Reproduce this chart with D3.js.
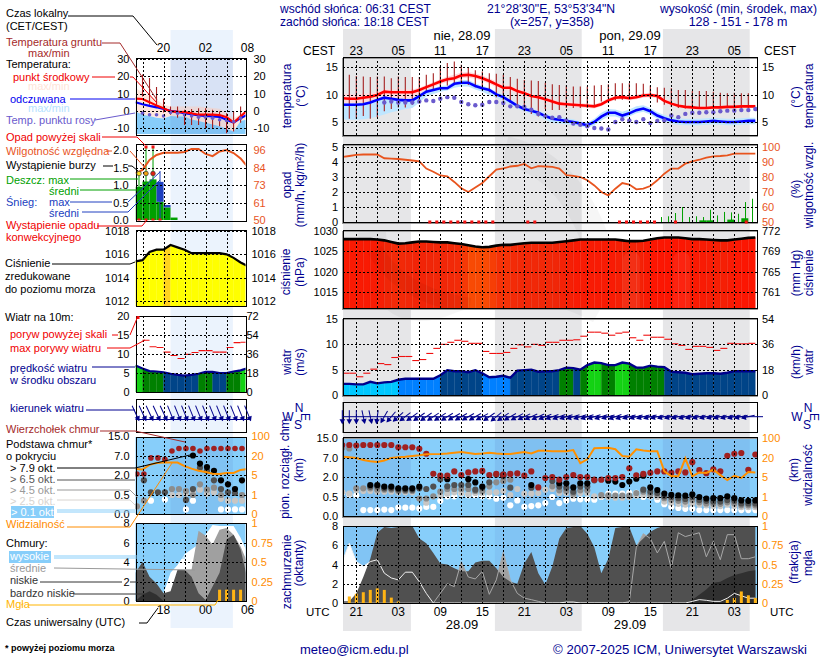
<!DOCTYPE html>
<html>
<head>
<meta charset="utf-8">
<script src="https://cdnjs.cloudflare.com/ajax/libs/d3/7.8.5/d3.min.js"></script>
<style>
  html, body { margin: 0; padding: 0; background: #fff; }
  text { font-family: "Liberation Sans", Arial, sans-serif; font-size: 11px; }
</style>
</head>
<body>
<svg id="chart" width="820" height="660"></svg>
<script>
// ---- main chart, one value per hour, 19 UTC on 27.09 = hour 19 ----
var hours = d3.range(19, 79);

var tempMid = [9.4,9.3,9.3,9.5,9.7,10,10.6,10.5,10.5,10.5,10.5,10.9,11.4,11.9,12.4,12.8,13,13.5,13.6,13.4,13,12.5,11.9,11.3,11.3,10.7,10.3,9.8,9.6,9.2,8.8,8.4,8.3,8.2,8.1,8,7.9,8.3,9,9.5,9.6,9.4,9.6,9.9,10,9.8,8.9,8.4,8,7.8,7.7,7.6,7.6,7.7,7.7,7.8,7.8,7.9,7.9,7.9];
var tempMax = [10.3,10.2,10.1,10.2,10.3,10.6,11,11,11,11,11,11.3,11.8,12.3,12.8,13.3,13.6,14,14.1,13.9,13.5,13,12.4,11.8,11.7,11.1,10.7,10.2,10,9.6,9.2,8.8,8.7,8.6,8.5,8.4,8.3,8.7,9.4,9.9,10,9.8,10,10.3,10.4,10.1,9.3,8.8,8.3,8.1,8,7.9,7.9,8,8,8.1,8.1,8.2,8.2,8.2];
var tempMin = [7.2,7,7,7.3,7.6,8,8.3,8.6,8.8,9,9.2,10,10.8,11.4,11.9,12.3,12.5,13,13.1,12.9,12.5,12,11.4,10.8,10.8,10.2,9.8,9.4,9.2,8.8,8.4,8,7.9,7.8,7.7,7.6,7.5,7.9,8.6,9.1,9.2,9,9.2,9.5,9.6,9.4,8.5,8,7.7,7.5,7.4,7.3,7.3,7.4,7.4,7.5,7.5,7.6,7.6,7.6];
var feelsMid = [8.2,8.2,8.2,8.3,8.6,9.1,9.5,9.3,9.1,9,9,9.8,10.6,10.9,11.2,11.2,12,12.2,12.2,11.6,11.2,10.9,10.1,9.6,8.8,8,7.4,7.1,6.7,6.1,5.6,5.4,5.2,5,4.7,4.4,5,6,6.7,6.7,6.2,6.6,7.2,7.5,7,6.2,5.7,5.3,5.1,5,5,5,5.1,5.2,5.1,5,5,5.1,5.2,5.2];
var feelsMax = [8.5,8.5,8.5,8.6,8.9,9.4,9.8,9.6,9.4,9.3,9.4,10.2,11,11.3,11.6,11.7,12.4,12.7,12.7,12.1,11.6,11.3,10.5,10,9.2,8.4,7.8,7.5,7.1,6.6,6.1,5.9,5.7,5.5,5.1,4.9,5.6,6.7,7.4,7.3,6.9,7.3,7.9,8.1,7.6,6.8,6.3,5.9,5.7,5.6,5.6,5.6,5.7,5.8,5.7,5.6,5.6,5.7,5.8,5.8];
var feelsMin = [5.5,5.4,5.4,5.5,5.7,6,6.4,6.8,7.1,7.4,7.6,8.6,9.7,10.2,10.6,10.8,11.3,11.5,11.5,11,10.6,10,9.5,9,8.2,7.5,7,6.5,6,5.4,4.8,4.7,4.6,4.4,4.2,3.9,4.4,5.3,6,6,5.6,6,6.6,6.9,6.4,5.6,5.1,4.7,4.5,4.4,4.4,4.4,4.5,4.6,4.5,4.4,4.4,4.5,4.6,4.6];
var dewPoint = [null,null,null,null,null,null,8.6,8.8,8.6,8.6,8.6,8.8,9,8.9,9.3,9.6,9.5,8.7,8.3,8.1,8.2,8.7,8.7,8.5,7.9,7.9,7.8,7.3,6.5,6.1,5.8,5.9,5.3,4.7,4.5,4.2,3.9,3.8,3.6,5,5.5,5.3,5,5.5,4.8,5.2,5.3,6.2,5.9,6.5,6.7,6.7,6.8,6.8,7,7.1,7.1,7.2,7.2,7.4];
var groundMax = [null,13.6,13.4,13.3,13.2,13.3,13.3,13,13.3,13.2,13.2,13.2,13.6,13.9,15.1,15.7,16,15.4,14.8,14.4,14.2,13.9,13.8,13.6,13.2,12.9,12.7,12.6,12.5,12.2,11.9,11.8,11.7,11.5,11.5,11.5,11.7,11.8,11.9,12.1,12.1,12.1,12.1,12,11.7,11.4,11.3,11.2,10.9,10.9,10.7,10.7,10.7,10.6,10.4,10.3,10.4,10.3,10.3,null];
var groundMin = [null,5.6,5.6,6.1,5.6,5.9,7,7.4,7.7,7.7,8.2,9,10.5,10.7,11,11.7,12,12,11.8,11.4,10.8,10.5,9.6,9,8.5,7.8,7,6.5,6,7.4,7.2,7.2,7.6,7.6,7.6,7.6,8,8.8,9.4,9,9.1,9.2,9.8,9.8,9.4,8.6,8.2,7.8,7.6,7.5,7.5,7.5,7.5,7.5,7.6,7.6,7.6,7.6,7.6,null];

var humidity = [93.3,94,94.8,95,95,95,92.5,92.2,92,91.5,91,90.4,85.6,83.5,81,80.4,76.7,72.5,70,73,76,80.5,85,85.7,87,87.5,88.7,85.8,87.3,87,86.7,85.6,81.3,80.8,80,77.8,74.4,70,67.8,72.2,76,75,71.8,72.2,74,77.8,82.2,85.6,85.6,88.9,90.4,91.5,92.9,93.8,94,94.4,95.6,95.6,95.6,95.6];
var rainHours = d3.range(64, 78);
var rainMax = [.33,.38,.6,1,.33,.38,.33,.82,.44,.67,.64,.55,1.33,1.55];
var rainMean = [0,0,0,0,0,0,.11,.11,0,0,.16,0,.25,0];
var convectiveHours = [31.5,32.5,33.5,34.5,35.5,36.5,37.5,38.5,39.5,40.5,45.5,46.5,58.6,59.6,60.6,61.6,62.6,63.6,66.6,76.7];

var pressure = [1028,1028,1028,1028,1028,1027.9,1027.7,1027.3,1026.9,1027,1027.2,1027.4,1027.4,1027.3,1027.2,1027.2,1027,1026.8,1026.5,1026.2,1026,1026.1,1026.4,1026.6,1026.6,1026.8,1027,1027.1,1027.1,1027.1,1027.1,1027.3,1027.5,1027.7,1027.9,1027.9,1027.9,1027.9,1027.9,1027.9,1027.7,1027.5,1027.5,1027.6,1027.9,1028.2,1028.4,1028.4,1028.4,1028.2,1028,1028,1027.9,1027.8,1027.7,1027.7,1027.9,1028.1,1028.3,1028.4];

var windSpeed = [2.2,2.2,2.1,2.1,2.6,2.3,2.5,2.6,3,3.2,3.2,3.2,3.2,3.2,3.9,4.9,4.7,4.7,4.5,4.9,4.3,3.5,3.6,3.8,3.4,4.8,4.9,5,4.6,4.7,4.7,4.9,5.4,5.3,5,5.9,6.4,6.3,5.9,5.9,6.4,6.2,5.4,5.4,5.8,5.6,5.5,4.6,4.5,4.4,4.1,4.2,4.3,4.3,4.2,4.4,4.7,4.7,4.7,4.7];
var windGust = [4.3,4.3,3.6,4.3,5.1,6.2,6,7.4,7.6,7.6,6.8,7,8.2,9.2,10,10.4,10.8,10.6,10.2,10.2,8.6,8.2,8.2,8.4,9.2,9.9,9.5,10,9.8,10.4,10.4,10.8,10.8,10.9,11.6,12.4,12.4,12.2,11.8,12.2,12.4,11.3,10.8,11.8,11.4,11.4,11,10.1,9.8,9,9.6,9.6,9.4,8.8,9.2,10.2,10.1,10.1,10.2];
var windDir = [0,0,0,-12,-12,8,30,40,48,52,54,55,55,57,57,58,60,60,60,60,62,55,50,56,60,62,64,66,66,68,70,70,72,72,72,72,72,72,74,70,72,74,74,74,74,76,76,76,76,74,76,76,76,76,76,76,76,78,78,80];

var cloudTop = [12.2,12.2,12,12.2,12.2,12.2,12.2,12.2,11.3,11.3,11.3,10.7,8.7,2.86,2.34,2.34,3.47,2.5,3.2,3.47,3.6,2.5,2.8,2.6,2.8,2.95,2.34,3.47,1.22,1.92,2,1.8,2,2.5,2,2,1.8,1.8,1.92,1.92,2,4.3,2.45,2.8,3.1,3.47,3.47,3.1,3.47,3.2,5.9,3.8,3,4,3.47,7.9,8.7,9,3.9,8.4];
var base79 = [null,null,null,null,1.4,1.4,1.28,1.28,1.15,1.15,1.15,1.28,null,null,null,1.84,null,null,1.84,1.59,1.28,null,null,2.6,null,null,null,1.4,null,null,null,1.53,1.53,1.22,1.53,1.53,null,null,1.72,1.66,1.4,1.66,1.87,2.34,1.22,1.02,.76,.66,.63,.6,.7,.5,.46,.47,.47,.55,.47,.41,.4,.41];
var base65 = [null,null,null,null,1.28,1.28,1.15,1.15,1.05,1.05,1.05,1.15,1.1,1.28,1.84,1.3,1.4,1.4,1.4,1.05,1.2,1.6,2.6,2.2,1.2,null,null,1.2,null,null,1.7,1.28,1.2,.9,1.28,1.28,1.75,null,null,null,null,null,null,1.05,.9,.8,.55,.5,.47,.45,.5,.42,.4,.38,.38,.42,.4,.33,.33,.33];
var base45 = [11,10.8,1.15,1.15,1.15,1.05,1.05,1.05,.95,.95,.95,.46,.46,.55,.9,1.1,1.1,1.1,1.1,.95,.95,1.3,1.6,1.7,1.8,null,null,null,null,null,1.3,1,.95,.75,1,1,null,.65,.62,.6,.6,.6,.8,.9,.7,.65,.47,.43,.4,.38,.42,.36,.33,.32,.32,.36,.33,.28,.28,.28];
var base25 = [.85,.75,1,.95,.95,.9,.9,.9,.85,.85,.85,null,.35,null,.6,.75,.85,.8,.7,.8,.8,.85,.85,.95,.65,1.1,.75,.75,.8,1.05,1.1,.8,.8,.6,.8,.8,.55,.55,.5,.48,.48,.5,.6,.65,.55,.5,.38,.35,.32,.3,.33,.3,.28,.26,.26,.3,.26,.23,.23,.23];
var base01 = [.84,.68,.63,.155,.155,.155,.17,.155,.22,.22,.22,.2,.24,.24,.4,.55,.55,.76,.63,.63,.55,.55,.455,.48,.28,.41,.24,.26,.28,.34,.5,.34,.41,.455,.44,.44,.43,.5,.76,.76,.76,.81,.81,.5,.55,.43,.31,.24,.21,.19,.19,.155,.155,.155,.155,.155,.155,.155,.155,.155];
var visibility = [25,23,20,18.4,17.5,16.9,18,20.5,22.7,25,28,31,34.7,35.5,36,38,41,44,40,36,38,41,38,36,36,40,44,38,49,49,47,47,47,52,15.9,19,59,60,61,55,28,25,55,50,47,47,9.4,5.5,5.5,19.7,5.5,8.6,8.2,10.7,6.5,4.4,6,4.8,8.9,8.6];

var cloudHigh = [4.3,6.2,4.3,3.8,4.3,4.5,3.1,2.6,2.4,3.2,3.2,2.2,1,0,0,0,0,0,0,0,0,0,0,0,0,0,0,0,0,0,0,0,.1,.1,0,0,0,0,0,0,0,0,0,0,0,0,0,0,0,0,.17,.35,.28,.17,.17,.5,1,.75,.5,.5];
var cloudMid = [0,0,0,0,0,0,0,0,0,0,0,0,0,0,1,2,1.7,4.3,2.7,2.5,3.3,.9,2.4,5.3,2.4,1,.5,.35,.17,0,0,0,0,0,0,0,0,0,0,0,0,.14,5.8,7.2,6.7,5.2,6.4,3.6,7.3,6.9,7.1,7.3,4.8,6.4,4.5,7.1,7.1,4.6,4.6,4.8];
var cloudLow = [.17,.17,1,2.7,4.6,7.3,7.9,7.8,7.9,8,8,6.7,6.2,5.2,4.1,4,3.6,3.3,3.3,4.2,4.4,4.4,3.6,2.7,2.2,2,4.1,5.3,3.1,1.9,3.8,6.7,7.8,7.9,8,7.2,5.8,3.1,4.6,7.8,7.9,7.9,6,6.7,7.4,7.8,8,7.9,7.9,7.9,7.9,7.9,7.9,7.9,7.9,7.9,7.9,7.9,7.9,7.9];
var cloudVeryLow = [0,0,0,0,0,0,0,0,0,0,0,0,0,0,0,0,0,0,0,0,0,0,0,0,0,0,0,0,0,0,0,0,0,0,0,0,0,0,0,0,0,0,0,0,0,0,0,0,0,0,.35,.85,1.4,2.1,2.2,2.6,2.9,3.1,3.3,3.4];
var fogHours = [20,21,22,23,24,25,26,27,74,75,76,77,78];
var fogMain = [.085,.12,.14,.17,.19,.17,.07,.02,.04,.065,.15,.1,.065];

// ---- small chart on the left, hours 14..30 UTC ----
var leftHours = d3.range(14, 31);
var leftTemp = [7,6.8,5,3,1.5,-.4,-.6,-.8,-1.5,-2.3,-2.3,-2.3,-2.5,-3.7,-6.8,-3.3,.5];
var leftFeels = [4.9,3.8,2.8,2,1,0,-.7,-1.4,-2,-2.7,-3,-3.3,-3.5,-5.2,-6.8,-4.3,-2.2];
var leftTempMax = [13,10.7,8.5,6.4,3.5,2.5,2.5,2.5,2.5,2.5,2,1.6,1.2,-1.4,-4.3,-2,1];
var leftFeelsTop = [-.4,-2.3,-3,-4,-4.5,-3,-3.3,-3.3,-5,-6,-7,-8,-9,-10.5,-12,-6,-5];
var leftFeelsBottom = [-14,-14,-14,-14,-14,-14,-14,-14,-14,-14,-14,-14,-14,-14,-14,-14,-14];
var leftGroundMax = [null,21,19,13.8,7,2.5,2.5,.6,1,1.5,1.5,.6,-.4,-1.4,-.4,2.5,null];
var leftGroundMin = [null,8.3,3.5,2.5,-1,-2.3,-4,-8.2,-8.2,-8.2,-10,-10,-9,-13,-12,-7,null];
var leftDew = [null,-1.4,-2.3,-2.3,-3,-1,-1.4,-2.3,-3,-3.7,-3.7,-4.3,-5.2,-5.6,-6.2,-4.3,null];

var leftHumidity = [80.7,82.9,89.4,92.7,94.2,94.2,94.2,94.7,96.7,96.7,93.4,92,95,96,94,90.5,85];
var leftRainMean = [.95,1.1,1.16,.52,.36,.07,0,0,0,0,0,0,0,0,0,0,0];
var leftSnowMean = [0,0,0,.57,.07,0,0,0,0,0,0,0,0,0,0,0,0];
var leftRainMax = [1.3,2.1,2.1];
var leftSnowMax = [1.4];
var leftConvective = [14.5,15.5,16.5,17.5];
var stormHours = [14.5,15.5,16.5];
var stormColors = ["#ffe020","#f0a010","#e02010"];
var overScaleHours = [15.5,16.5];

var leftPressure = [1015.4,1015.5,1016.2,1016.4,1016.4,1016.8,1016.6,1016.4,1016.1,1016.1,1016.1,1016.1,1016.1,1016,1015.7,1015.3,1015];
var leftWind = [7,6.2,5.5,5.4,5.2,4.8,4.5,4.3,4.5,4.8,5.3,5.3,5,5,5.4,5.7,6.3];
var leftGust = [null,13.6,11.9,11.7,10.5,9.6,8.8,9.9,10.4,10.9,10.9,10.5,10.5,11.7,13,13.1,null];
var leftDir = [-25,-25,-25,-25,-25,-22,-22,-22,-22,-22,-22,-22,-22,-22,-22,-22,-22];

var leftTop = [2.26,2.26,6.5,6.5,6.1,9,10,10,10,9,10,10,10,10,10,10,10];
var left79 = [null,null,null,null,null,null,null,null,7.2,5,4.1,3.1,1.6,1.3,.95,1.6,null];
var left65 = [null,1.6,.7,.7,.7,null,null,.37,.95,3.9,3.1,1.6,.95,.7,.65,null,null];
var left45 = [.2,.35,null,null,null,.95,.95,.8,.5,1.3,.9,1.05,.5,null,null,.5,null];
var left25 = [.2,null,null,null,null,.5,.5,.6,.7,.9,.6,.7,.4,.35,.35,.35,.3];
var left01 = [null,.35,.35,null,.38,null,null,.12,.35,null,null,null,.12,.12,.12,.12,null];
var leftVis = [9.7,9.3,13,14.5,14.8,14.8,14.8,12,10,8.4,7.4,6,5.8,6.6,6.6,9,9.7];

var leftHigh = [0,0,0,0,.8,2.9,3.7,4.8,5.3,5.8,6.8,7.8,7.7,7.7,7.7,6.5,4.9];
var leftMid = [0,0,0,0,0,0,1.2,3.2,3.2,7.2,6.7,5.8,7.3,7.5,6.8,5.6,3.9];
var leftLow = [2.9,4,2.5,1.8,.8,1,3.2,3.2,2.5,.8,.1,1.5,2.9,6.3,6.8,5.3,2.2];
var leftVeryLow = [0,.65,1,.65,0,0,0,0,0,0,0,0,0,0,0,0,0];
var leftFogHours = [26,27,28,29];
var leftFog = [.145,.145,.145,.145];

// tick labels
var baseTicks = [0, .5, 2, 7, 15];
var baseLabels = ["0.0","0.5","2.0","7.0","15.0"];
var visTicks = [0, 1, 5, 20, 100];
var fogTicks = [0, .25, .5, .75, 1];
var mainTopLabels = ["23","05","11","17","23","05","11","17","23","05"];
var mainBottomLabels = ["21","03","09","15","21","03","09","15","21","03"];
var mainLabelHours = [21,27,33,39,45,51,57,63,69,75];

var NAVY = "#000090", ORANGE = "#ff8c00", RH = "#e8541e", SKY = "#87cefa";
var windColor = d3.scaleThreshold().domain([3.1,4,5.2,6.2]).range(["#00c8ff","#0080ff","#004488","#008000","#14d214"]);
var pressureColor = d3.scaleLinear().domain([1026.2,1026.7,1027.3,1028.2]).range(["#f84a04","#f42c08","#f02608","#fc1602"]).clamp(true);
var leftPressureColor = d3.scaleThreshold().domain([1016.7]).range(["#ffff00","#ffd21e"]);

var svg = d3.select("#chart");
var clipCount = 0;

var xMain = d3.scaleLinear().domain([19.1, 78.24]).range([343, 757]);
var xLeft = d3.scaleLinear().domain([14, 29.7]).range([135.5, 245.5]);
var gridMain = d3.range(21, 78, 3);
var gridLeft = [15, 18, 21, 24, 27];

// plain text helper
function label(x, y, str, color, anchor, size) {
  return svg.append("text").attr("x", x).attr("y", y).text(str)
    .attr("fill", color || "#000")
    .attr("text-anchor", anchor || "start")
    .style("font-size", (size || 11) + "px");
}

function vlabel(x, y, str, color) {
  svg.append("text").attr("transform", "translate(" + x + "," + y + ") rotate(-90)")
    .attr("text-anchor", "middle").attr("fill", color || NAVY).style("font-size", "12px").text(str);
}

function leader(points, color) {
  svg.append("path").attr("d", d3.line()(points)).attr("fill", "none")
    .attr("stroke", color).attr("stroke-width", 1);
}

// a clipped group for the marks of one panel
function panel(x, top, bottom) {
  var id = "clip" + (clipCount++);
  svg.append("clipPath").attr("id", id).append("rect")
    .attr("x", x.range()[0]).attr("y", top).attr("width", x.range()[1] - x.range()[0]).attr("height", bottom - top);
  return svg.append("g").attr("clip-path", "url(#" + id + ")");
}

function finishPanel(x, y, top, bottom, grid, yGrid, shadow) {
  var x0 = x.range()[0], x1 = x.range()[1];
  var g = svg.append("g").attr("shape-rendering", "crispEdges");
  g.selectAll(".v").data(grid).enter().append("line")
    .attr("x1", function(d) { return Math.round(x(d)) + .5; }).attr("x2", function(d) { return Math.round(x(d)) + .5; })
    .attr("y1", top).attr("y2", bottom)
    .attr("stroke", "#000").attr("stroke-dasharray", "2,2");
  if (yGrid) {
    g.selectAll(".h").data(yGrid).enter().append("line")
      .attr("x1", x0).attr("x2", x1)
      .attr("y1", function(d) { return Math.round(y(d)) + .5; }).attr("y2", function(d) { return Math.round(y(d)) + .5; })
      .attr("stroke", "#000").attr("stroke-dasharray", "2,2");
  }
  if (shadow) {
    g.append("rect").attr("x", x0 - 1).attr("y", top + 1).attr("width", x1 - x0 + 1).attr("height", bottom - top)
      .attr("fill", "none").attr("stroke", "#999");
  }
  g.append("rect").attr("x", Math.round(x0) + .5).attr("y", Math.round(top) + .5)
    .attr("width", Math.round(x1 - x0)).attr("height", Math.round(bottom - top))
    .attr("fill", "none").attr("stroke", "#000");
}

function axisL(y, x, ticks, labels, color, pad) {
  var axis = d3.axisLeft(y).tickValues(ticks).tickSize(0).tickPadding(pad || 6);
  axis.tickFormat(labels ? function(d, i) { return labels[i]; } : String);
  var g = svg.append("g").attr("transform", "translate(" + x + ",0)").call(axis);
  g.select(".domain").remove();
  g.selectAll("text").attr("fill", color || "#000").style("font-size", "11px");
}

function axisR(y, x, ticks, labels, color, pad) {
  var axis = d3.axisRight(y).tickValues(ticks).tickSize(0).tickPadding(pad || 5);
  axis.tickFormat(labels ? function(d, i) { return labels[i]; } : String);
  var g = svg.append("g").attr("transform", "translate(" + x + ",0)").call(axis);
  g.select(".domain").remove();
  g.selectAll("text").attr("fill", color || "#000").style("font-size", "11px");
}

function drawLine(g, x, y, xs, vals, color, width) {
  var line = d3.line().defined(function(d, i) { return vals[i] != null; })
    .x(function(d) { return x(d); }).y(function(d, i) { return y(vals[i]); });
  g.append("path").attr("d", line(xs)).attr("fill", "none").attr("stroke", color).attr("stroke-width", width);
}

function drawBand(g, x, y, xs, upper, lower, color) {
  var area = d3.area().x(function(d) { return x(d); })
    .y0(function(d, i) { return y(lower[i]); }).y1(function(d, i) { return y(upper[i]); });
  g.append("path").attr("d", area(xs)).attr("fill", color);
}

// one filled slice per hour, each with its own colour
function drawStrips(g, x, y, xs, vals, colorOf, bottom) {
  d3.range(xs.length - 1).forEach(function(i) {
    var area = d3.area().x(function(d) { return x(d.h); }).y0(bottom).y1(function(d) { return y(d.v); });
    g.append("path").attr("d", area([{h: xs[i], v: vals[i]}, {h: xs[i + 1], v: vals[i + 1]}]))
      .attr("fill", colorOf(vals[i + 1])).attr("stroke", colorOf(vals[i + 1])).attr("stroke-width", .3);
  });
}

function drawDots(g, x, y, xs, vals, color, r, stroke) {
  xs.forEach(function(h, i) {
    if (vals[i] == null) return;
    g.append("circle").attr("cx", x(h)).attr("cy", y(vals[i])).attr("r", r)
      .attr("fill", color).attr("stroke", stroke || "none");
  });
}

function drawWhiskers(g, x, y, xs, hi, lo, color) {
  g.selectAll(".w").data(xs.filter(function(d, i) { return hi[i] != null; })).enter().append("line")
    .attr("x1", function(d) { return x(d); }).attr("x2", function(d) { return x(d); })
    .attr("y1", function(d) { return y(hi[xs.indexOf(d)]); })
    .attr("y2", function(d) { return y(lo[xs.indexOf(d)]); })
    .attr("stroke", color).attr("stroke-width", 1.1);
}

// gust is one short flat dash per hour
function drawGust(g, x, y, xs, vals) {
  xs.forEach(function(h, i) {
    if (vals[i] == null) return;
    g.append("line").attr("x1", x(h)).attr("x2", x(h + 1)).attr("y1", y(vals[i])).attr("y2", y(vals[i]))
      .attr("stroke", "#f01010").attr("stroke-width", 1.1);
  });
}

function drawArrows(x, y0, xs, dirs, len, lineY, x2) {
  svg.append("line").attr("x1", x.range()[0]).attr("x2", x2).attr("y1", lineY).attr("y2", lineY)
    .attr("stroke", "#00008b").attr("stroke-width", 1);
  xs.forEach(function(h, i) {
    var a = svg.append("g").attr("transform", "translate(" + x(h) + "," + y0 + ") rotate(" + dirs[i] + ")");
    a.append("line").attr("x1", 0).attr("x2", 0).attr("y1", -len).attr("y2", len)
      .attr("stroke", "#00008b").attr("stroke-width", 1);
    a.append("path").attr("d", d3.line()([[0, len + 1], [-2.8, len - 4], [2.8, len - 4]]) + "Z").attr("fill", "#00008b");
  });
}

function drawBases(g, x, y, xs, layers) {
  layers.forEach(function(l) {
    drawDots(g, x, y, xs, l.vals, l.color, 3.1);
  });
}

function fogBars(g, x, y, xs, vals) {
  xs.forEach(function(h, i) {
    g.append("rect").attr("x", x(h) - 1.5).attr("width", 3).attr("y", y(vals[i])).attr("height", y(0) - y(vals[i])).attr("fill", "#ffb414");
  });
}

// ---- night bands ----
var nightMain = [[19.1, 28.8], [40.8, 53.2], [64.8, 77.2]];
svg.selectAll(".night").data(nightMain).enter().append("rect")
  .attr("x", function(d) { return xMain(d[0]); }).attr("width", function(d) { return xMain(d[1]) - xMain(d[0]); })
  .attr("y", 29).attr("height", 602).attr("fill", "#e6e6e8");
svg.append("rect").attr("x", xLeft(19)).attr("width", xLeft(27.9) - xLeft(19)).attr("y", 30).attr("height", 598).attr("fill", "#ebf3fd");

// big faint watermark behind the main panels
var mark = svg.append("g").attr("fill", "none").attr("stroke", "#000").attr("stroke-opacity", .035).attr("stroke-width", 28);
mark.append("path").attr("d", "M372,232 Q378,330 450,300 Q530,270 600,310");
mark.append("path").attr("d", "M505,150 Q590,170 610,300");

// ---- main: temperature ----
var yTemp = d3.scaleLinear().domain([5, 10, 15]).range([122, 95, 67]);
var pT = panel(xMain, 57, 135);
drawBand(pT, xMain, yTemp, hours, tempMax, tempMin, "#ffd9dc");
drawBand(pT, xMain, yTemp, hours, feelsMax, feelsMin, "#bfe6ff");
drawWhiskers(pT, xMain, yTemp, hours, groundMax, groundMin, "#a52020");
drawLine(pT, xMain, yTemp, hours, tempMid, "#ff0000", 2.6);
drawLine(pT, xMain, yTemp, hours, feelsMid, "#0000ff", 2.6);
drawDots(pT, xMain, yTemp, hours, dewPoint, "#6a5acd", 2.2);
finishPanel(xMain, yTemp, 57, 135, gridMain, [5, 10, 15], true);
axisL(yTemp, 343, [5, 10, 15], null, "#000", 5);
axisR(yTemp, 757, [5, 10, 15]);

// ---- main: precipitation ----
var yRain = d3.scaleLinear().domain([0, 5]).range([222, 147]);
var yHum = d3.scaleLinear().domain([50, 100]).range([222, 147]);
var pR = panel(xMain, 144, 222.5);
rainHours.forEach(function(h, i) {
  if (rainMean[i] > 0) pR.append("rect").attr("x", xMain(h)).attr("width", xMain(h + 1) - xMain(h))
    .attr("y", yRain(rainMean[i])).attr("height", yRain(0) - yRain(rainMean[i])).attr("fill", "#00a000");
  pR.append("line").attr("x1", xMain(h + .6)).attr("x2", xMain(h + .6)).attr("y1", yRain(rainMax[i])).attr("y2", yRain(0))
    .attr("stroke", "#00a000").attr("stroke-width", 1);
});
drawLine(pR, xMain, yHum, hours, humidity, RH, 1.8);
finishPanel(xMain, yRain, 144, 222, gridMain, [1, 2, 3, 4, 5], true);
svg.selectAll(".conv").data(convectiveHours).enter().append("rect")
  .attr("x", function(d) { return xMain(d) - 1.5; }).attr("y", yRain(0) - 1.5).attr("width", 3).attr("height", 3).attr("fill", "#f01010");
axisL(yRain, 343, [0, 1, 2, 3, 4, 5], null, "#000", 5);
axisR(yHum, 757, [50, 60, 70, 80, 90, 100], null, RH);

// ---- main: pressure ----
var yPress = d3.scaleLinear().domain([1015, 1030]).range([292, 231]);
var pP = panel(xMain, 230, 308);
drawStrips(pP, xMain, yPress, hours, pressure, pressureColor, 308);
// pale rounded shapes and a dark swoosh of the watermark inside the red fill
[[623, 252, 17], [673, 252, 17]].forEach(function(b) {
  pP.append("rect").attr("x", b[0]).attr("y", b[1]).attr("width", b[2]).attr("height", 70).attr("rx", 8).attr("fill", "#fff").attr("fill-opacity", .06);
});
pP.append("path").attr("d", "M375,250 Q400,295 470,306").attr("fill", "none").attr("stroke", "#000").attr("stroke-opacity", .04).attr("stroke-width", 16);
drawLine(pP, xMain, yPress, hours, pressure, "#000", 2.6);
finishPanel(xMain, yPress, 230, 308, gridMain, [1015, 1020, 1025], true);
axisL(yPress, 343, [1015, 1020, 1025, 1030], null, "#000", 5);
axisR(yPress, 757, [1015, 1020, 1025, 1030], ["761", "765", "769", "772"]);

// ---- main: wind ----
var yWind = d3.scaleLinear().domain([0, 15]).range([395, 319]);
var pW = panel(xMain, 318, 395);
drawStrips(pW, xMain, yWind, hours, windSpeed, windColor, 395);
drawLine(pW, xMain, yWind, hours, windSpeed, "#00008b", 2.4);
drawGust(pW, xMain, yWind, hours.slice(0, 59), windGust);
finishPanel(xMain, yWind, 318, 395, gridMain, [5, 10], true);
axisL(yWind, 343, [0, 5, 10, 15], null, "#000", 5);
axisR(yWind, 757, [0, 5, 10, 15], ["0", "18", "36", "54"]);

// ---- main: wind direction ----
finishPanel(xMain, null, 401.5, 431.5, gridMain, null, true);
drawArrows(xMain, 416.7, hours.slice(0, 59), windDir, 6.5, 416.7, 763);

// ---- main: cloud base ----
var yBase = d3.scaleLinear().domain(baseTicks).range([516, 497, 477, 458, 438]);
var yVis = d3.scaleLinear().domain(visTicks).range([516, 497, 477, 458, 438]);
var pB = panel(xMain, 437, 516);
pB.append("rect").attr("x", 343).attr("y", 437).attr("width", 414).attr("height", 79).attr("fill", SKY);
nightMain.forEach(function(n) {
  pB.append("rect").attr("x", xMain(n[0])).attr("width", xMain(n[1]) - xMain(n[0])).attr("y", 437).attr("height", 79).attr("fill", "#5068c0").attr("fill-opacity", .14);
});
drawBases(pB, xMain, yBase, hours, [
  {vals: base01, color: "#ffffff"}, {vals: base25, color: "#c8c6c4"}, {vals: base45, color: "#8c8c8c"},
  {vals: base65, color: "#505050"}, {vals: base79, color: "#000000"}]);
drawDots(pB, xMain, yBase, hours, cloudTop, "#a02020", 3.1);
drawLine(pB, xMain, yVis, hours, visibility, "#ff9000", 2);
finishPanel(xMain, yBase, 437, 516, gridMain, [.5, 2, 7], true);
axisL(yBase, 343, baseTicks, baseLabels, "#000", 5);
axisR(yVis, 757, visTicks, null, ORANGE);

// ---- main: clouds ----
var yCloud = d3.scaleLinear().domain([0, 8]).range([603, 526]);
var yFog = d3.scaleLinear().domain([0, 1]).range([603, 526]);
var pC = panel(xMain, 526, 603);
pC.append("rect").attr("x", 343).attr("y", 526).attr("width", 414).attr("height", 77).attr("fill", SKY);
nightMain.forEach(function(n) {
  pC.append("rect").attr("x", xMain(n[0])).attr("width", xMain(n[1]) - xMain(n[0])).attr("y", 526).attr("height", 77).attr("fill", "#5068c0").attr("fill-opacity", .1);
});
var zeros = hours.map(function() { return 0; });
drawBand(pC, xMain, yCloud, hours, cloudHigh, zeros, "#ffffff");
drawBand(pC, xMain, yCloud, hours, cloudMid, zeros, "#a0a0a0");
drawBand(pC, xMain, yCloud, hours, cloudLow, zeros, "#505050");
drawBand(pC, xMain, yCloud, hours, cloudVeryLow, zeros, "#303030");
drawLine(pC, xMain, yCloud, hours, cloudMid, "#a8a8a8", 1);
drawLine(pC, xMain, yCloud, hours, cloudHigh, "#f0f0f0", 1);
fogBars(pC, xMain, yFog, fogHours, fogMain);
finishPanel(xMain, yCloud, 526, 603, gridMain, [2, 4, 6], false);
axisL(yCloud, 343, [0, 2, 4, 6, 8], null, "#000", 5);
axisR(yFog, 757, fogTicks, ["0", "0.25", "0.5", "0.75", "1"], ORANGE);

// ---- left: temperature ----
var yTempL = d3.scaleLinear().domain([-10, 30]).range([128, 59]);
var pTL = panel(xLeft, 57.5, 134);
drawBand(pTL, xLeft, yTempL, leftHours, leftTempMax, leftFeelsTop, "#ffe6dc");
drawBand(pTL, xLeft, yTempL, leftHours, leftFeelsTop, leftFeelsBottom, "#87cdfa");
pTL.append("rect").attr("x", xLeft(19)).attr("width", xLeft(27.9) - xLeft(19)).attr("y", 57).attr("height", 78).attr("fill", "#5068c0").attr("fill-opacity", .12);
drawWhiskers(pTL, xLeft, yTempL, leftHours, leftGroundMax, leftGroundMin, "#a52020");
drawLine(pTL, xLeft, yTempL, leftHours, leftFeels, "#0000ff", 2.2);
drawLine(pTL, xLeft, yTempL, leftHours, leftTemp, "#ff0000", 2.2);
drawDots(pTL, xLeft, yTempL, leftHours, leftDew, "#6a5acd", 1.8);
finishPanel(xLeft, yTempL, 57.5, 134, gridLeft, [-10, 0, 10, 20, 30]);
axisL(yTempL, 135.5, [-10, 0, 10, 20, 30], null, "#000", 6);
axisR(yTempL, 245.5, [-10, 0, 10, 20, 30], null, "#000", 8);

// ---- left: precipitation ----
var yRainL = d3.scaleLinear().domain([0, 2]).range([220, 150]);
var yHumL = d3.scaleLinear().domain([50, 96]).range([220, 150]);
var pRL = panel(xLeft, 143.5, 220.5);
leftHours.forEach(function(h, i) {
  if (leftRainMean[i] > 0) pRL.append("rect").attr("x", xLeft(h)).attr("width", xLeft(h + 1) - xLeft(h))
    .attr("y", yRainL(leftRainMean[i])).attr("height", yRainL(0) - yRainL(leftRainMean[i])).attr("fill", "#00a000");
  if (leftSnowMean[i] > 0) pRL.append("rect").attr("x", xLeft(h)).attr("width", xLeft(h + 1) - xLeft(h))
    .attr("y", yRainL(leftRainMean[i] + leftSnowMean[i])).attr("height", yRainL(0) - yRainL(leftSnowMean[i])).attr("fill", "#2040c0");
});
leftRainMax.forEach(function(v, i) {
  pRL.append("line").attr("x1", xLeft(14.5 + i)).attr("x2", xLeft(14.5 + i)).attr("y1", yRainL(v)).attr("y2", yRainL(0)).attr("stroke", "#00a000");
});
leftSnowMax.forEach(function(v, i) {
  pRL.append("line").attr("x1", xLeft(17.5 + i)).attr("x2", xLeft(17.5 + i)).attr("y1", yRainL(v)).attr("y2", yRainL(0)).attr("stroke", "#2040c0");
});
drawLine(pRL, xLeft, yHumL, leftHours, leftHumidity, RH, 2);
finishPanel(xLeft, yRainL, 143.5, 220, gridLeft, [.5, 1, 1.5, 2]);
overScaleHours.forEach(function(h) {
  svg.append("rect").attr("x", xLeft(h) - 1.5).attr("y", 145.5).attr("width", 3).attr("height", 3).attr("fill", "#f01010");
});
stormHours.forEach(function(h, i) {
  svg.append("circle").attr("cx", xLeft(h)).attr("cy", 173.5).attr("r", 2.3).attr("fill", stormColors[i]).attr("stroke", "#333").attr("stroke-width", .7);
});
leftConvective.forEach(function(h) {
  svg.append("rect").attr("x", xLeft(h) - 1.5).attr("y", 218.5).attr("width", 3).attr("height", 2).attr("fill", "#f01010");
});
axisL(yRainL, 135.5, [0, .5, 1, 1.5, 2], ["0.0", "0.5", "1.0", "1.5", "2.0"], "#000", 7);
axisR(yHumL, 245.5, [50, 61, 73, 84, 96], null, RH, 8);

// ---- left: pressure ----
var yPressL = d3.scaleLinear().domain([1012, 1018]).range([301, 231]);
var pPL = panel(xLeft, 230, 306);
drawStrips(pPL, xLeft, yPressL, leftHours, leftPressure, leftPressureColor, 306);
drawLine(pPL, xLeft, yPressL, leftHours, leftPressure, "#000", 2.2);
finishPanel(xLeft, yPressL, 230, 306, gridLeft, [1012, 1014, 1016, 1018]);
axisL(yPressL, 135.5, [1012, 1014, 1016, 1018], null, "#000", 6);
axisR(yPressL, 245.5, [1012, 1014, 1016, 1018], null, "#000", 6);

// ---- left: wind ----
var yWindL = d3.scaleLinear().domain([0, 20]).range([392, 316]);
var pWL = panel(xLeft, 316, 392);
drawStrips(pWL, xLeft, yWindL, leftHours, leftWind, windColor, 392);
drawLine(pWL, xLeft, yWindL, leftHours, leftWind, "#00008b", 2.2);
drawGust(pWL, xLeft, yWindL, leftHours, leftGust);
finishPanel(xLeft, yWindL, 316, 392, gridLeft, [5, 10, 15]);
svg.append("rect").attr("x", 136.5).attr("y", 316).attr("width", 3).attr("height", 3).attr("fill", "#f01010");
axisL(yWindL, 135.5, [0, 5, 10, 15, 20], null, "#000", 6);
axisR(yWindL, 245.5, [0, 5, 10, 15, 20], ["0", "18", "36", "54", "72"], "#000", 1);

// ---- left: wind direction ----
finishPanel(xLeft, null, 398.5, 431, gridLeft, null);
drawArrows(xLeft, 413, leftHours, leftDir, 8, 419.5, 251);

// ---- left: cloud base ----
var yBaseL = d3.scaleLinear().domain(baseTicks).range([514, 495, 475, 456, 436]);
var yVisL = d3.scaleLinear().domain(visTicks).range([514, 495, 475, 456, 436]);
var dotHours = leftHours.map(function(h) { return h + .2; });
var pBL = panel(xLeft, 437, 514);
pBL.append("rect").attr("x", 135).attr("y", 437).attr("width", 111).attr("height", 77).attr("fill", SKY);
pBL.append("rect").attr("x", xLeft(19)).attr("width", xLeft(27.9) - xLeft(19)).attr("y", 437).attr("height", 77).attr("fill", "#5068c0").attr("fill-opacity", .12);
drawBases(pBL, xLeft, yBaseL, dotHours, [
  {vals: left01, color: "#ffffff"}, {vals: left25, color: "#c8c6c4"}, {vals: left45, color: "#8c8c8c"},
  {vals: left65, color: "#505050"}, {vals: left79, color: "#000000"}]);
drawDots(pBL, xLeft, yBaseL, dotHours, leftTop, "#a02020", 2.8);
drawLine(pBL, xLeft, yVisL, leftHours, leftVis, "#ff9000", 2);
finishPanel(xLeft, yBaseL, 437, 514, gridLeft, [.5, 2, 7]);
axisL(yBaseL, 135.5, baseTicks, baseLabels, "#000", 6);
axisR(yVisL, 245.5, visTicks, null, ORANGE, 6);

// ---- left: clouds ----
var yCloudL = d3.scaleLinear().domain([0, 8]).range([601, 523]);
var yFogL = d3.scaleLinear().domain([0, 1]).range([601, 523]);
var pCL = panel(xLeft, 523, 601);
pCL.append("rect").attr("x", 135).attr("y", 523).attr("width", 111).attr("height", 78).attr("fill", SKY);
var leftZeros = leftHours.map(function() { return 0; });
drawBand(pCL, xLeft, yCloudL, leftHours, leftHigh, leftZeros, "#ffffff");
drawBand(pCL, xLeft, yCloudL, leftHours, leftMid, leftZeros, "#a0a0a0");
drawBand(pCL, xLeft, yCloudL, leftHours, leftLow, leftZeros, "#505050");
drawBand(pCL, xLeft, yCloudL, leftHours, leftVeryLow, leftZeros, "#303030");
fogBars(pCL, xLeft, yFogL, leftFogHours, leftFog);
finishPanel(xLeft, yCloudL, 523, 601, gridLeft, [2, 4, 6]);
axisL(yCloudL, 135.5, [0, 2, 4, 6, 8], null, "#000", 6);
axisR(yFogL, 245.5, fogTicks, ["0", "0.25", "0.5", "0.75", "1"], ORANGE, 6);

// ---- time labels ----
mainLabelHours.forEach(function(h, i) {
  label(xMain(h), 55, mainTopLabels[i], "#000", "middle", 12);
  label(xMain(h), 616, mainBottomLabels[i], "#000", "middle", 12);
});
label(303, 55, "CEST", "#000", "start", 12);
label(764, 55, "CEST", "#000", "start", 12);
label(306, 616, "UTC", "#000", "start", 11.5);
label(770, 616, "UTC", "#000", "start", 11.5);
label(462, 40, "nie, 28.09", "#000", "middle", 13);
label(630, 40, "pon, 29.09", "#000", "middle", 13);
label(462, 629, "28.09", "#000", "middle", 13);
label(630, 629, "29.09", "#000", "middle", 13);
[[20, "20"], [26, "02"], [32, "08"]].forEach(function(d) {
  label(xLeft(18) + (d[0] - 20) * 7, 52, d[1], "#000", "middle", 12);
});
label(xLeft(18), 614, "18", "#000", "middle", 12);
label(xLeft(24), 614, "00", "#000", "middle", 12);
label(xLeft(30), 614, "06", "#000", "middle", 12);

// ---- header and footer ----
label(280, 13, "wschód słońca: 06:31 CEST", NAVY, "start", 12);
label(280, 26, "zachód słońca: 18:18 CEST", NAVY, "start", 12);
label(551, 13, "21°28'30\"E, 53°53'34\"N", NAVY, "middle", 12.2);
label(552, 26, "(x=257,  y=358)", NAVY, "middle", 12.5);
label(817, 13, "wysokość (min, środek, max)", NAVY, "end", 12.2);
label(738, 26, "128 - 151 - 178 m", NAVY, "middle", 12.5);
label(300, 654, "meteo@icm.edu.pl", NAVY, "start", 13);
label(553, 654, "© 2007-2025 ICM, Uniwersytet Warszawski", NAVY, "start", 13.2);
label(5, 651, "* powyżej poziomu morza", "#000", "start", 9).style("font-weight", "bold");

// ---- rotated axis titles ----
vlabel(291, 96, "temperatura");
vlabel(305, 96, "(°C)");
vlabel(291, 185, "opad");
vlabel(304, 185, "(mm/h, kg/m²/h)");
vlabel(290, 272, "ciśnienie");
vlabel(304, 272, "(hPa)");
vlabel(291, 362, "wiatr");
vlabel(304, 362, "(m/s)");
vlabel(289, 467, "pion. rozciągł. chm.");
vlabel(303, 470, "(km)");
vlabel(291, 572, "zachmurzenie");
vlabel(303, 563, "(oktanty)");
vlabel(800, 97, "(°C)");
vlabel(813, 96, "temperatura");
vlabel(800, 189, "(%)");
vlabel(813, 185, "wilgotność wzgl.");
vlabel(800, 273, "(mm Hg)");
vlabel(813, 273, "ciśnienie");
vlabel(800, 362, "(km/h)");
vlabel(813, 362, "wiatr");
vlabel(798, 470, "(km)");
vlabel(812, 475, "widzialność");
vlabel(798, 562, "(frakcja)");
vlabel(812, 563, "mgła");

// compass letters, the E lies on its side
[292, 801].forEach(function(c) {
  label(c - 4, 421, "W", NAVY, "middle", 12);
  label(c + 7, 412, "N", NAVY, "middle", 12);
  label(c + 6, 429, "S", NAVY, "middle", 12);
  svg.append("text").attr("transform", "translate(" + (c + 9) + ",417) rotate(90)")
    .attr("text-anchor", "middle").attr("fill", NAVY).style("font-size", "12px").text("E");
});

// ---- left side legend ----
label(6, 17, "Czas lokalny");
label(6, 30, "(CET/CEST)");
leader([[68, 16], [133, 16], [157, 45]], "#000");
label(6, 46, "Temperatura gruntu", "#a52a2a");
label(28, 57, "max/min", "#a52a2a");
leader([[102, 43], [120, 43], [157, 100]], "#a52a2a");
label(6, 68, "Temperatura:");
label(13, 81, "punkt środkowy", "#f00000");
leader([[92, 77], [115, 77]], "#f00000");
leader([[130, 77], [133, 77], [157, 103]], "#f00000");
label(28, 90, "max/min", "#ffe4d8");
label(10, 103, "odczuwana", "#0000f0");
leader([[70, 99], [135, 99]], "#0000f0");
label(28, 112, "max/min", "#b4e2ff");
label(6, 124, "Temp. punktu rosy", "#6a5acd");
leader([[95, 120], [135, 113]], "#6a5acd");
label(6, 141, "Opad powyżej skali", "#f00000");
leader([[102, 137], [137, 137], [145, 145]], "#f00000");
label(6, 155, "Wilgotność względna", RH);
leader([[106, 151], [112, 151]], RH);
leader([[130, 151], [147, 170]], RH);
label(6, 169, "Wystąpienie burzy");
leader([[103, 166], [113, 166]], "#000");
leader([[128, 166], [132, 166], [138, 171]], "#000");
label(6, 184, "Deszcz: max", "#00a000");
leader([[70, 179], [138, 179]], "#00a000");
label(49, 195, "średni", "#00a000");
leader([[80, 190], [143, 190]], "#00a000");
label(6, 206, "Śnieg:", "#2040c0");
label(49, 206, "max", "#2040c0");
leader([[70, 202], [112, 202]], "#2040c0");
leader([[128, 202], [160, 172]], "#2040c0");
label(49, 217, "średni", "#2040c0");
leader([[82, 212], [128, 212], [160, 180]], "#2040c0");
label(6, 229, "Wystąpienie opadu", "#f00000");
label(6, 241, "konwekcyjnego", "#f00000");
leader([[97, 226], [142, 226], [147, 220]], "#f00000");
label(5, 267, "Ciśnienie");
label(5, 280, "zredukowane");
label(5, 293, "do poziomu morza");
leader([[52, 264], [130, 264], [135, 262]], "#000");
label(5, 321, "Wiatr na 10m:");
label(10, 338, "poryw powyżej skali", "#f00000");
leader([[112, 335], [118, 335]], "#f00000");
leader([[130, 335], [138, 316]], "#f00000");
label(10, 352, "max porywy wiatru", "#f00000");
leader([[107, 348], [130, 348], [145, 340]], "#f00000");
label(10, 372, "prędkość wiatru", NAVY);
label(10, 384, "w środku obszaru", NAVY);
leader([[92, 367], [135, 367]], NAVY);
label(10, 412, "kierunek wiatru", NAVY);
leader([[86, 410], [135, 410]], NAVY);
label(6, 433, "Wierzchołek chmur", "#a52a2a");
leader([[100, 431], [135, 431], [185, 442]], "#a52a2a");
label(6, 448, "Podstawa chmur*");
label(6, 460, "o pokryciu");
label(10, 472, "> 7.9 okt.");
leader([[57, 468], [135, 468], [190, 455]], "#000");
label(10, 483, "> 6.5 okt.", "#555");
leader([[57, 480], [135, 480]], "#555");
label(10, 494, "> 4.5 okt.", "#999");
leader([[57, 490], [130, 490], [138, 498]], "#999");
label(10, 505, "> 2.5 okt.", "#d8d4d0");
leader([[57, 500], [130, 500], [135, 505]], "#d8d4d0");
svg.append("rect").attr("x", 11).attr("y", 506).attr("width", 43).attr("height", 12).attr("fill", SKY);
label(11, 516, "> 0.1 okt.", "#fff");
leader([[57, 510], [135, 510]], SKY);
leader([[57, 512], [135, 512]], SKY);
label(6, 528, "Widzialność", ORANGE);
leader([[67, 527], [130, 527], [172, 463]], ORANGE);
label(6, 547, "Chmury:");
svg.append("rect").attr("x", 9).attr("y", 551).attr("width", 42).attr("height", 12).attr("fill", SKY);
label(10, 560, "wysokie", "#fff");
leader([[54, 556], [185, 556]], SKY);
leader([[54, 558], [185, 558]], SKY);
label(10, 572, "średnie", "#999");
leader([[54, 568], [195, 570]], "#999");
label(10, 584, "niskie", "#333");
leader([[40, 582], [122, 582]], "#333");
leader([[130, 582], [137, 582]], "#333");
label(10, 597, "bardzo niskie", "#333");
leader([[73, 594], [145, 594]], "#333");
label(6, 608, "Mgła", "#ffb400");
leader([[28, 605], [215, 605], [218, 600]], "#ffb400");
label(6, 626, "Czas uniwersalny (UTC)");
leader([[139, 623], [147, 623], [158, 608]], "#000");
</script>
</body>
</html>
